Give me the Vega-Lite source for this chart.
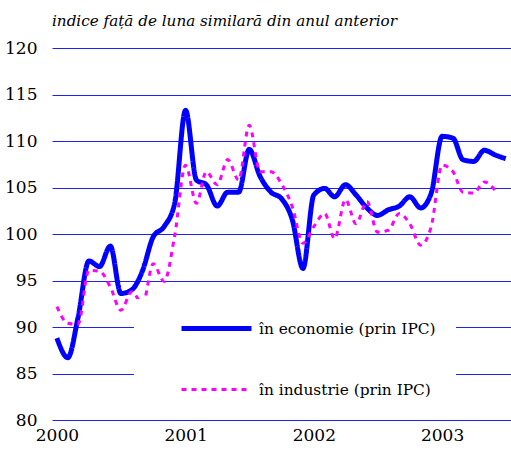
{
  "$schema": "https://vega.github.io/schema/vega-lite/v6.json",
  "width": 459,
  "height": 372,
  "autosize": "none",
  "padding": {"left": 52, "top": 48, "right": 0, "bottom": 35},
  "background": "white",
  "title": {"text": "indice față de luna similară din anul anterior", "anchor": "start", "frame": "group", "font": "DejaVu Serif", "fontStyle": "italic", "fontWeight": "normal", "fontSize": 15.2, "color": "black", "offset": 10},
  "config": {"view": {"stroke": null}},
  "data": {"values": [
    {"date": "2000-01-01", "s": "în economie (prin IPC)", "v": 88.8},
    {"date": "2000-02-01", "s": "în economie (prin IPC)", "v": 86.7},
    {"date": "2000-03-01", "s": "în economie (prin IPC)", "v": 91.0},
    {"date": "2000-04-01", "s": "în economie (prin IPC)", "v": 97.1},
    {"date": "2000-05-01", "s": "în economie (prin IPC)", "v": 96.5},
    {"date": "2000-06-01", "s": "în economie (prin IPC)", "v": 98.7},
    {"date": "2000-07-01", "s": "în economie (prin IPC)", "v": 93.6},
    {"date": "2000-08-01", "s": "în economie (prin IPC)", "v": 94.0},
    {"date": "2000-09-01", "s": "în economie (prin IPC)", "v": 96.1},
    {"date": "2000-10-01", "s": "în economie (prin IPC)", "v": 99.7},
    {"date": "2000-11-01", "s": "în economie (prin IPC)", "v": 100.8},
    {"date": "2000-12-01", "s": "în economie (prin IPC)", "v": 103.3},
    {"date": "2001-01-01", "s": "în economie (prin IPC)", "v": 113.3},
    {"date": "2001-02-01", "s": "în economie (prin IPC)", "v": 105.8},
    {"date": "2001-03-01", "s": "în economie (prin IPC)", "v": 105.3},
    {"date": "2001-04-01", "s": "în economie (prin IPC)", "v": 103.0},
    {"date": "2001-05-01", "s": "în economie (prin IPC)", "v": 104.5},
    {"date": "2001-06-01", "s": "în economie (prin IPC)", "v": 104.5},
    {"date": "2001-07-01", "s": "în economie (prin IPC)", "v": 109.1},
    {"date": "2001-08-01", "s": "în economie (prin IPC)", "v": 106.2},
    {"date": "2001-09-01", "s": "în economie (prin IPC)", "v": 104.5},
    {"date": "2001-10-01", "s": "în economie (prin IPC)", "v": 103.8},
    {"date": "2001-11-01", "s": "în economie (prin IPC)", "v": 101.5},
    {"date": "2001-12-01", "s": "în economie (prin IPC)", "v": 96.3},
    {"date": "2002-01-01", "s": "în economie (prin IPC)", "v": 104.2},
    {"date": "2002-02-01", "s": "în economie (prin IPC)", "v": 104.9},
    {"date": "2002-03-01", "s": "în economie (prin IPC)", "v": 104.0},
    {"date": "2002-04-01", "s": "în economie (prin IPC)", "v": 105.3},
    {"date": "2002-05-01", "s": "în economie (prin IPC)", "v": 104.2},
    {"date": "2002-06-01", "s": "în economie (prin IPC)", "v": 102.8},
    {"date": "2002-07-01", "s": "în economie (prin IPC)", "v": 102.0},
    {"date": "2002-08-01", "s": "în economie (prin IPC)", "v": 102.6},
    {"date": "2002-09-01", "s": "în economie (prin IPC)", "v": 103.0},
    {"date": "2002-10-01", "s": "în economie (prin IPC)", "v": 104.0},
    {"date": "2002-11-01", "s": "în economie (prin IPC)", "v": 102.8},
    {"date": "2002-12-01", "s": "în economie (prin IPC)", "v": 104.4},
    {"date": "2003-01-01", "s": "în economie (prin IPC)", "v": 110.5},
    {"date": "2003-02-01", "s": "în economie (prin IPC)", "v": 110.3},
    {"date": "2003-03-01", "s": "în economie (prin IPC)", "v": 108.0},
    {"date": "2003-04-01", "s": "în economie (prin IPC)", "v": 107.8},
    {"date": "2003-05-01", "s": "în economie (prin IPC)", "v": 109.0},
    {"date": "2003-06-01", "s": "în economie (prin IPC)", "v": 108.5},
    {"date": "2003-07-01", "s": "în economie (prin IPC)", "v": 108.1},
    {"date": "2000-01-01", "s": "în industrie (prin IPC)", "v": 92.2},
    {"date": "2000-02-01", "s": "în industrie (prin IPC)", "v": 90.4},
    {"date": "2000-03-01", "s": "în industrie (prin IPC)", "v": 90.3},
    {"date": "2000-04-01", "s": "în industrie (prin IPC)", "v": 96.1},
    {"date": "2000-05-01", "s": "în industrie (prin IPC)", "v": 96.0},
    {"date": "2000-06-01", "s": "în industrie (prin IPC)", "v": 94.3},
    {"date": "2000-07-01", "s": "în industrie (prin IPC)", "v": 91.8},
    {"date": "2000-08-01", "s": "în industrie (prin IPC)", "v": 93.8},
    {"date": "2000-09-01", "s": "în industrie (prin IPC)", "v": 92.5},
    {"date": "2000-10-01", "s": "în industrie (prin IPC)", "v": 96.8},
    {"date": "2000-11-01", "s": "în industrie (prin IPC)", "v": 94.9},
    {"date": "2000-12-01", "s": "în industrie (prin IPC)", "v": 99.8},
    {"date": "2001-01-01", "s": "în industrie (prin IPC)", "v": 107.4},
    {"date": "2001-02-01", "s": "în industrie (prin IPC)", "v": 103.3},
    {"date": "2001-03-01", "s": "în industrie (prin IPC)", "v": 106.7},
    {"date": "2001-04-01", "s": "în industrie (prin IPC)", "v": 105.3},
    {"date": "2001-05-01", "s": "în industrie (prin IPC)", "v": 108.0},
    {"date": "2001-06-01", "s": "în industrie (prin IPC)", "v": 105.8},
    {"date": "2001-07-01", "s": "în industrie (prin IPC)", "v": 111.7},
    {"date": "2001-08-01", "s": "în industrie (prin IPC)", "v": 106.7},
    {"date": "2001-09-01", "s": "în industrie (prin IPC)", "v": 106.7},
    {"date": "2001-10-01", "s": "în industrie (prin IPC)", "v": 105.4},
    {"date": "2001-11-01", "s": "în industrie (prin IPC)", "v": 102.9},
    {"date": "2001-12-01", "s": "în industrie (prin IPC)", "v": 99.0},
    {"date": "2002-01-01", "s": "în industrie (prin IPC)", "v": 100.8},
    {"date": "2002-02-01", "s": "în industrie (prin IPC)", "v": 102.2},
    {"date": "2002-03-01", "s": "în industrie (prin IPC)", "v": 99.5},
    {"date": "2002-04-01", "s": "în industrie (prin IPC)", "v": 103.7},
    {"date": "2002-05-01", "s": "în industrie (prin IPC)", "v": 101.1},
    {"date": "2002-06-01", "s": "în industrie (prin IPC)", "v": 103.5},
    {"date": "2002-07-01", "s": "în industrie (prin IPC)", "v": 100.2},
    {"date": "2002-08-01", "s": "în industrie (prin IPC)", "v": 100.4},
    {"date": "2002-09-01", "s": "în industrie (prin IPC)", "v": 102.2},
    {"date": "2002-10-01", "s": "în industrie (prin IPC)", "v": 101.1},
    {"date": "2002-11-01", "s": "în industrie (prin IPC)", "v": 98.8},
    {"date": "2002-12-01", "s": "în industrie (prin IPC)", "v": 100.8},
    {"date": "2003-01-01", "s": "în industrie (prin IPC)", "v": 107.4},
    {"date": "2003-02-01", "s": "în industrie (prin IPC)", "v": 106.7},
    {"date": "2003-03-01", "s": "în industrie (prin IPC)", "v": 104.5},
    {"date": "2003-04-01", "s": "în industrie (prin IPC)", "v": 104.4},
    {"date": "2003-05-01", "s": "în industrie (prin IPC)", "v": 105.6},
    {"date": "2003-06-01", "s": "în industrie (prin IPC)", "v": 104.7}
  ]},
  "mark": {"type": "line", "interpolate": "monotone", "strokeCap": "butt"},
  "encoding": {
    "x": {
      "field": "date", "type": "temporal",
      "scale": {"type": "utc", "domain": [{"year": 1999, "month": 12, "date": 18, "utc": true}, {"year": 2003, "month": 7, "date": 16, "utc": true}]},
      "axis": {
        "title": null, "grid": false, "domain": false, "ticks": false,
        "values": [{"year": 2000, "month": 1, "date": 1, "utc": true}, {"year": 2001, "month": 1, "date": 1, "utc": true}, {"year": 2002, "month": 1, "date": 1, "utc": true}, {"year": 2003, "month": 1, "date": 1, "utc": true}],
        "labelExpr": "utcFormat(datum.value, '%Y')",
        "labelFont": "DejaVu Serif", "labelFontSize": 17, "labelColor": "black", "labelPadding": 7, "labelFlush": false, "labelOverlap": false
      }
    },
    "y": {
      "field": "v", "type": "quantitative",
      "scale": {"domain": [80, 120], "zero": false, "nice": false},
      "axis": {
        "title": null, "domain": false, "ticks": false,
        "values": [80, 85, 90, 95, 100, 105, 110, 115, 120],
        "grid": true, "gridColor": "#2020f0", "gridWidth": 1, "gridOpacity": 1,
        "labelFont": "DejaVu Serif", "labelFontSize": 17, "labelColor": "black", "labelPadding": 15
      }
    },
    "color": {
      "field": "s", "type": "nominal",
      "scale": {"domain": ["în economie (prin IPC)", "în industrie (prin IPC)"], "range": ["#0000ff", "#ff00ff"]},
      "legend": {
        "title": null, "orient": "none", "legendX": 82, "legendY": 251,
        "fillColor": "white", "padding": 20, "symbolOffset": 53,
        "symbolType": "M-5,0H5", "symbolSize": 196, "rowPadding": 42,
        "labelFont": "DejaVu Serif", "labelFontSize": 15.4, "labelColor": "black", "labelOffset": 33, "labelLimit": 400
      }
    },
    "strokeDash": {
      "field": "s", "type": "nominal",
      "scale": {"domain": ["în economie (prin IPC)", "în industrie (prin IPC)"], "range": [[1, 0], [5, 5]]},
      "legend": null
    },
    "strokeWidth": {
      "field": "s", "type": "nominal",
      "scale": {"domain": ["în economie (prin IPC)", "în industrie (prin IPC)"], "range": [5, 3]},
      "legend": null
    }
  }
}
